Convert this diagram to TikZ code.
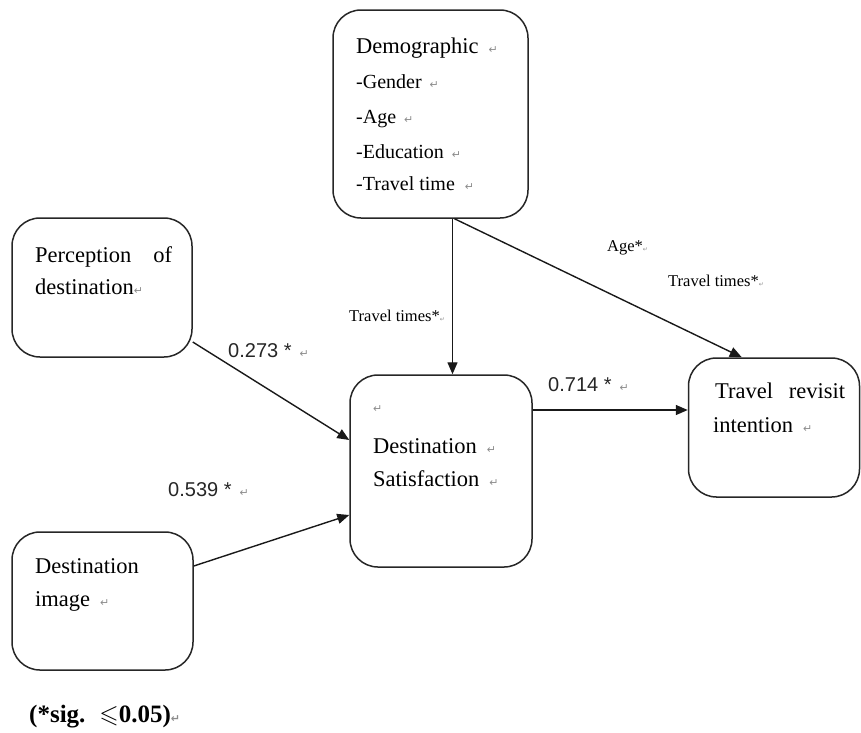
\documentclass[tikz,border=0pt]{standalone}
\usepackage{amssymb}
\usepackage{fontspec}
\setmainfont{Liberation Serif}
\newfontfamily\lsans{Liberation Sans}
\newfontfamily\dejavu{DejaVu Sans}
\usetikzlibrary{arrows.meta,calc}
\newcommand{\retmark}{{\color{black!45}\dejavu\fontsize{11}{11}\selectfont ↵}}
\newcommand{\tinymark}{{\color{black!45}\dejavu\fontsize{6}{6}\selectfont ↵}}
\tikzset{
  box/.style={draw=black!85, line width=1.5pt, rounded corners=28pt, inner sep=0pt},
  boxtext/.style={anchor=base west, inner sep=0pt, font=\fontsize{22.5}{26}\selectfont},
  subtext/.style={anchor=base west, inner sep=0pt, font=\fontsize{20}{24}\selectfont},
  coef/.style={anchor=base west, inner sep=0pt, text=black!85, font=\lsans\fontsize{20}{24}\selectfont},
  small/.style={anchor=base west, inner sep=0pt, font=\fontsize{16.5}{20}\selectfont},
  arr/.style={line width=1.4pt, draw=black!90, -{Triangle[length=12pt,width=10pt]}}
}
\begin{document}
\begin{tikzpicture}[x=1pt,y=-1pt]
\useasboundingbox (0,0) rectangle (861,732);
% boxes
\node[box, minimum width=195pt, minimum height=208pt] (demo) at (430.5,114) {};
\node[box, minimum width=180pt, minimum height=139pt] (perc) at (102,287.5) {};
\node[box, minimum width=182pt, minimum height=192pt] (ds) at (441,471) {};
\node[box, minimum width=171pt, minimum height=139pt] (trv) at (774,427.5) {};
\node[box, minimum width=181pt, minimum height=138pt] (dimg) at (102.5,601) {};
% demographic text
\node[boxtext] (d1) at (356,53) {Demographic\hspace{10pt}\retmark};
\node[subtext] (d2) at (356,88) {-Gender\hspace{8pt}\retmark};
\node[subtext] (d3) at (356,123) {-Age\hspace{8pt}\retmark};
\node[subtext] (d4) at (356,158) {-Education\hspace{8pt}\retmark};
\node[subtext] (d5) at (356,190) {-Travel time\hspace{10pt}\retmark};
% perception
\node[boxtext] (p1) at (35,262) {\hbox to 137pt{Perception\hfill of}};
\node[boxtext] (p2) at (35,294) {destination\retmark};
% destination satisfaction
\node[boxtext] (s0) at (373,412) {\retmark};
\node[boxtext] (s1) at (373,453) {Destination\hspace{10pt}\retmark};
\node[boxtext] (s2) at (373,486) {Satisfaction\hspace{10pt}\retmark};
% travel revisit
\node[boxtext] (t1) at (715,398) {\hbox to 130pt{Travel\hfill revisit}};
\node[boxtext] (t2) at (713,432) {intention\hspace{10pt}\retmark};
% destination image
\node[boxtext] (i1) at (35,573) {Destination};
\node[boxtext] (i2) at (35,606) {image\hspace{10pt}\retmark};
% connector end points
\coordinate (dv) at ($(demo.south)+(22,0)$);
\coordinate (dd) at ($(demo.south)+(24,0)$);
\coordinate (tn) at ($(trv.north west)+(54,0)$);
\coordinate (pe) at ($(perc.east)+(0,54.5)$);
\coordinate (se1) at ($(ds.west)+(0,-31)$);
\coordinate (ie) at ($(dimg.east)+(0,-35)$);
\coordinate (se2) at ($(ds.west)+(0,44)$);
\coordinate (de) at ($(ds.east)+(0,-61)$);
% connectors
\draw[arr] (dv) -- (dv |- ds.north);
\draw[arr] (dd) -- (tn);
\draw[arr] (pe) -- (se1);
\draw[arr] (ie) -- (se2);
\draw[arr] (de) -- (de -| trv.west);
% labels
\node[coef] (c1) at (228,357) {0.273 *\hspace{8pt}\retmark};
\node[coef] (c2) at (168,496) {0.539 *\hspace{8pt}\retmark};
\node[coef] (c3) at (548,391) {0.714 *\hspace{8pt}\retmark};
\node[small] (l1) at (349,321) {Travel times*\tinymark};
\node[small] (l2) at (607,251) {Age*\tinymark};
\node[small] (l3) at (668,286) {Travel times*\tinymark};
\node[anchor=base west, inner sep=0pt, font=\bfseries\fontsize{25}{30}\selectfont] (sig) at (29,722) {(*sig.\hspace{14pt}$\leqslant$0.05)\retmark};
\end{tikzpicture}
\end{document}
